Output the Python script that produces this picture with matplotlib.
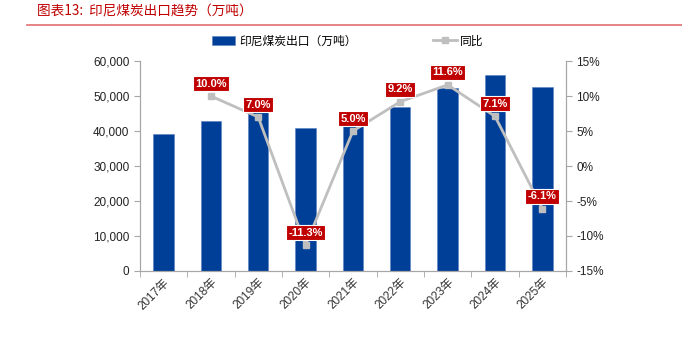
import matplotlib.pyplot as plt
import numpy as np

plt.rcParams['font.family'] = ['Liberation Sans', 'Noto Sans CJK SC', 'DejaVu Sans']

years = ['2017年', '2018年', '2019年', '2020年', '2021年', '2022年', '2023年', '2024年', '2025年']
exports = [39100, 43000, 46000, 40800, 42850, 46800, 52200, 55900, 52500]
yoy = [None, 10.0, 7.0, -11.3, 5.0, 9.2, 11.6, 7.1, -6.1]

bar_color = '#003F98'
line_color = '#BFBFBF'
label_bg = '#C00000'
axis_color = '#A6A6A6'

fig = plt.figure(figsize=(6.82, 3.51), dpi=100)
ax = fig.add_axes([0.205, 0.228, 0.625, 0.598])
ax2 = ax.twinx()

x = np.arange(len(years))
ax.bar(x, exports, width=0.43, color=bar_color, edgecolor='#5B7FC0', linewidth=0.4,
       label='印尼煤炭出口（万吨）', zorder=2)

xl = [i for i, v in enumerate(yoy) if v is not None]
yl = [v for v in yoy if v is not None]
ax2.plot(xl, yl, color=line_color, lw=2, marker='s', ms=5, label='同比', zorder=3)
for xi, yi in zip(xl, yl):
    ax2.annotate(f'{yi:.1f}%', (xi, yi), xytext=(0, 9), textcoords='offset points',
                 ha='center', va='center', fontsize=8, fontweight='bold', color='white',
                 bbox=dict(boxstyle='square,pad=0.22', fc=label_bg, ec='white', lw=0.8),
                 zorder=5)

ax.set_xlim(-0.5, len(years) - 0.5)
ax.set_ylim(0, 60000)
ax.set_yticks(np.arange(0, 60001, 10000))
ax.set_yticklabels([f'{v:,}' for v in range(0, 60001, 10000)])
ax2.set_ylim(-15, 15)
ax2.set_yticks(np.arange(-15, 16, 5))
ax2.set_yticklabels([f'{v}%' for v in range(-15, 16, 5)])

ax.set_xticks(x)
ax.set_xticklabels(years, rotation=45, ha='right', rotation_mode='anchor',
                   family=['Liberation Sans', 'Noto Sans CJK SC'])
ax.set_xticks(np.arange(-0.5, len(years), 1), minor=True)
ax.tick_params(axis='x', which='major', length=0, labelsize=8.5, colors='#333333', pad=4)
ax.tick_params(axis='x', which='minor', length=4, color=axis_color, direction='out')
ax.tick_params(axis='y', length=4, color=axis_color, labelsize=8.5, labelcolor='#222222')
ax2.tick_params(axis='y', length=4, color=axis_color, labelsize=8.5, labelcolor='#222222')

for a in (ax, ax2):
    for s in a.spines.values():
        s.set_color(axis_color)
        s.set_linewidth(0.8)
    a.spines['top'].set_visible(False)

h1, l1 = ax.get_legend_handles_labels()
h2, l2 = ax2.get_legend_handles_labels()
fig.legend(h1 + h2, l1 + l2, loc='center', bbox_to_anchor=(0.51, 0.883), ncol=2,
           frameon=False, handlelength=2.0, handleheight=0.7,
           columnspacing=6.5, handletextpad=0.3,
           prop={'family': ['Noto Sans CJK SC'], 'size': 8.5})

fig.text(0.054, 0.966, '图表13:  印尼煤炭出口趋势（万吨）', color='#C00000', fontsize=9.8,
         style='italic', va='center', family=['Noto Sans CJK SC'])
fig.add_artist(plt.Line2D([0.04, 1.0], [0.928, 0.928], color='#E07070', lw=1.2))

fig.savefig('out.png', dpi=100)
